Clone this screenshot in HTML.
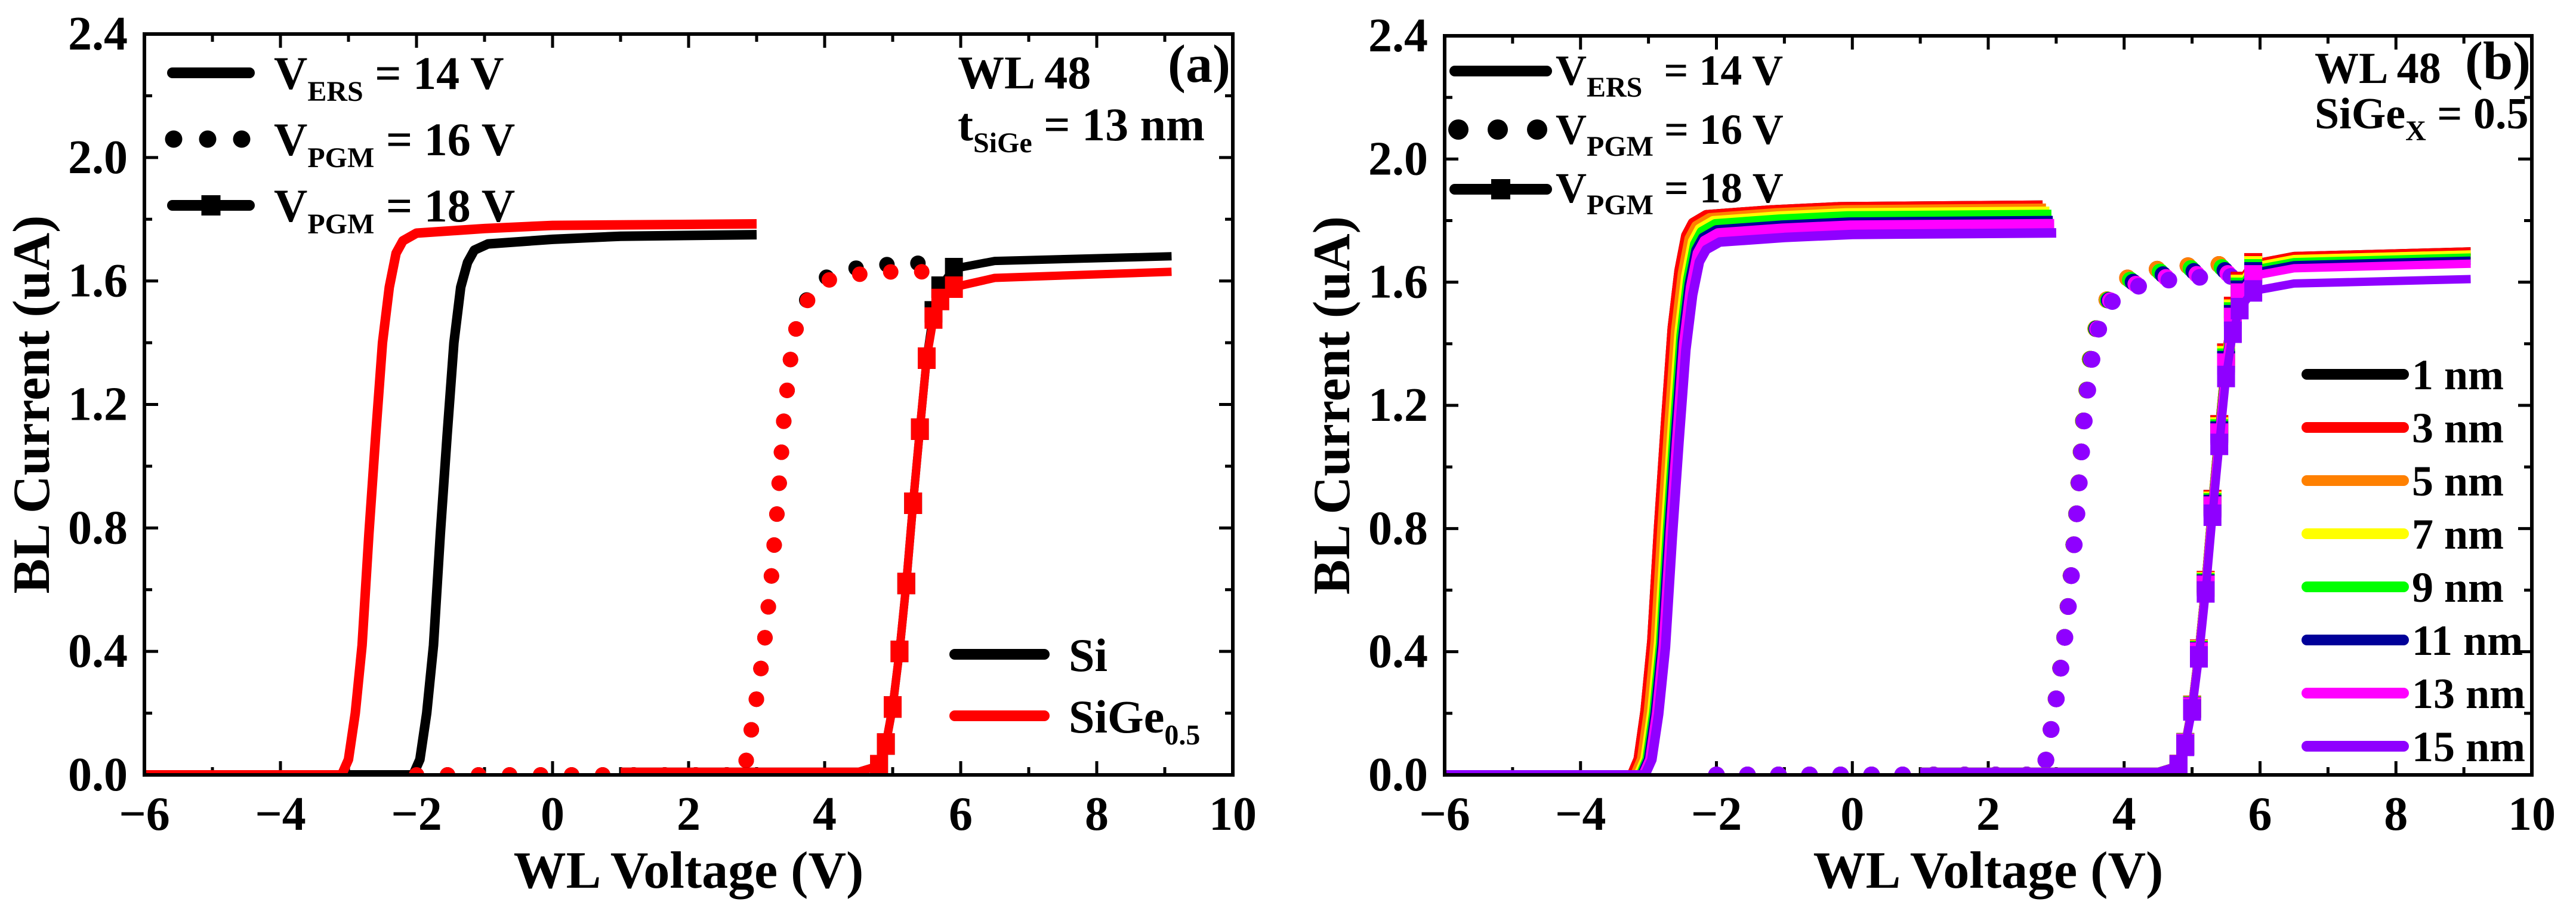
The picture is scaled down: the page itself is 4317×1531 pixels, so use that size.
<!DOCTYPE html>
<html><head><meta charset="utf-8"><style>
html,body{margin:0;padding:0;background:#fff}
svg{display:block;font-family:"Liberation Serif",serif;font-weight:bold}
</style></head><body>
<svg id="chart" width="4317" height="1531" viewBox="0 0 4317 1531"></svg>
<script>
// ---------- data ----------
const xTicks = [-6,-4,-2,0,2,4,6,8,10];
const yTicks = [0.0,0.4,0.8,1.2,1.6,2.0,2.4];
const yTickLabels = ["0.0","0.4","0.8","1.2","1.6","2.0","2.4"];
// panel (a)
const ersSiGeX = [-6,-3.1,-3.0,-2.9,-2.8,-2.7,-2.6,-2.5,-2.4,-2.3,-2.2,-2.0,-1,0,3];
const ersSiGeY = [0,0,0.05,0.2,0.42,0.78,1.1,1.4,1.58,1.69,1.73,1.755,1.77,1.78,1.785];
const ersSiX = [-6,-2.05,-1.95,-1.85,-1.75,-1.65,-1.55,-1.45,-1.35,-1.25,-1.15,-0.95,0,1,3];
const ersSiY = [0,0,0.05,0.2,0.42,0.78,1.1,1.4,1.58,1.66,1.70,1.72,1.735,1.745,1.75];
const pgm16X = [-2,2.8,2.85,3.0,3.1,3.2,3.3,3.4,3.5,3.6,3.8,4.0,4.4,5.0,5.8];
const pgm16SiY = [0,0,0.05,0.25,0.4,0.6,0.85,1.15,1.35,1.47,1.57,1.61,1.64,1.655,1.66];
const pgm16SiGeY = [0,0,0.05,0.25,0.4,0.6,0.85,1.15,1.35,1.47,1.56,1.60,1.62,1.63,1.63];
const pgm18X = [1,4.5,4.8,4.9,5.0,5.1,5.2,5.3,5.4,5.5,5.6,5.7,5.9,6.5,9.1];
const pgm18SiY = [0.01,0.01,0.03,0.1,0.22,0.4,0.62,0.88,1.12,1.35,1.5,1.58,1.64,1.665,1.68];
const pgm18SiGeY = [0.01,0.01,0.03,0.1,0.22,0.4,0.62,0.88,1.12,1.35,1.48,1.54,1.58,1.61,1.63];
// panel (b)
const thickLabels = ["1 nm","3 nm","5 nm","7 nm","9 nm","11 nm","13 nm","15 nm"];
const thickColors = ["#000000","#ff0000","#ff8000","#ffff00","#00ff00","#000099","#ff00ff","#8f00ff"];
const ersShift = [-0.2,-0.2,-0.15,-0.1,-0.07,-0.05,-0.03,0];
const ersSat = [1.85,1.85,1.84,1.83,1.82,1.80,1.79,1.76];
const pgm16Sat = [1.66,1.66,1.66,1.65,1.65,1.64,1.63,1.62];
const pgm18Sat = [1.70,1.70,1.69,1.69,1.68,1.67,1.66,1.61];
const ersBaseX = [-6,-3.05,-2.95,-2.85,-2.75,-2.65,-2.55,-2.45,-2.35,-2.25,-2.15,-1.95,-1,0,3];
const ersBaseY = [0,0,0.05,0.2,0.42,0.78,1.1,1.4,1.58,1.69,1.73,1.755,1.77,1.78,1.785];

const NS="http://www.w3.org/2000/svg";
const svg=document.getElementById('chart');
function mk(tag,attrs,parent){const e=document.createElementNS(NS,tag);for(const k in attrs)e.setAttribute(k,attrs[k]);(parent||svg).appendChild(e);return e;}
function txt(parent,x,y,html,size,anchor){const t=mk('text',{x:x,y:y,'font-size':size,'text-anchor':anchor||'start',fill:'#000'},parent);t.innerHTML=html;return t;}
function sub(main,s,rest){return main+'<tspan font-size="48" dy="20">'+s+'</tspan><tspan dy="-20">'+rest+'</tspan>';}

function panel(id,L,R,T,B){
  const g=mk('g',{});
  
  
  const sx=v=>L+(v+6)/16*(R-L);
  const sy=v=>B-v/2.4*(B-T);
  for(let v=-6;v<=10;v+=1){
    const len=(v%2===0)?23:13;
    mk('line',{x1:sx(v),x2:sx(v),y1:B,y2:B-len,stroke:'#000','stroke-width':5},g);
    mk('line',{x1:sx(v),x2:sx(v),y1:T,y2:T+len,stroke:'#000','stroke-width':5},g);
  }
  for(let i=0;i<=12;i++){const v=i*0.2;const len=(i%2===0)?23:13;
    mk('line',{x1:L,x2:L+len,y1:sy(v),y2:sy(v),stroke:'#000','stroke-width':5},g);
    mk('line',{x1:R,x2:R-len,y1:sy(v),y2:sy(v),stroke:'#000','stroke-width':5},g);
  }
  xTicks.forEach(v=>{const t=txt(g,sx(v),B+92,(v<0?'\u2212':'')+Math.abs(v),80,'middle');
    
    });
  yTicks.forEach((v,i)=>{const t=txt(g,L-28,sy(v)+26,yTickLabels[i],80,'end');
    
    });
  const xt=txt(g,(L+R)/2,B+189,'WL Voltage (V)',88,'middle');
  
  
  const cx=L-180, cy=(T+B)/2;
  const yt=txt(g,cx,cy,'BL Current (uA)',88,'middle');
  yt.setAttribute('transform','rotate(-90 '+cx+' '+cy+')');
  yt.setAttribute('dominant-baseline','middle');
  
  
  const clip=mk('clipPath',{id:'clip'+id},g);mk('rect',{x:L,y:T,width:R-L,height:B-T},clip);
  const plot=mk('g',{'clip-path':'url(#clip'+id+')'},g);
  const frame=mk('rect',{x:L,y:T,width:R-L,height:B-T,fill:'none',stroke:'#000','stroke-width':6},g);
  
  
  return {g,plot,sx,sy};
}
function pathD(p,xs,ys){return xs.map((x,i)=>(i?'L':'M')+p.sx(x).toFixed(1)+' '+p.sy(ys[i]).toFixed(1)).join(' ');}
function solid(p,xs,ys,color,w,name){const e=mk('path',{d:pathD(p,xs,ys),fill:'none',stroke:color,'stroke-width':w,'stroke-linejoin':'round'},p.plot);
  
  return e;}
function dotted(p,xs,ys,color,w,name){const e=mk('path',{d:pathD(p,xs,ys),fill:'none',stroke:color,'stroke-width':w,'stroke-linecap':'round','stroke-dasharray':'0 52'},p.plot);
  
  return e;}
function squares(p,xs,ys,color,name){xs.forEach((x,i)=>{if(x<4.8||x>5.95)return;
  const r=mk('rect',{x:p.sx(x)-15,y:p.sy(ys[i])-18,width:30,height:36,fill:color},p.plot);
  
  });}
function scaleY(ys,sat){const m=ys[ys.length-1];return ys.map(v=>v*sat/m);}
function legLine(g,x1,x2,y,color,type,name,dotW,dotGap){
  const l=mk('line',{x1:x1,x2:x2,y1:y,y2:y,stroke:color,'stroke-width':type==='dot'?(dotW||29):18,'stroke-linecap':'round'},g);
  if(type==='dot')l.setAttribute('stroke-dasharray','0 '+(dotGap||57));
  
  
  if(type==='sq'){const r=mk('rect',{x:(x1+x2)/2-16,y:y-17,width:32,height:34,fill:color},g);
    
    }
}

// ---------- panel a ----------
const A=panel('a',242,2066,57,1298);
solid(A,ersSiX,ersSiY,'#000',16,'erase-si-curve');
solid(A,ersSiGeX,ersSiGeY,'#ff0000',16,'erase-sige-curve');
dotted(A,pgm16X,pgm16SiY,'#000',26,'pgm16-si-curve');
dotted(A,pgm16X,pgm16SiGeY,'#ff0000',26,'pgm16-sige-curve');
solid(A,pgm18X,pgm18SiY,'#000',14,'pgm18-si-curve');squares(A,pgm18X,pgm18SiY,'#000','pgm18-si-marker');
solid(A,pgm18X,pgm18SiGeY,'#ff0000',14,'pgm18-sige-curve');squares(A,pgm18X,pgm18SiGeY,'#ff0000','pgm18-sige-marker');
legLine(A.g,289,418,122,'#000','solid','legend-vers-line');
legLine(A.g,291,418,233,'#000','dot','legend-vpgm16-line');
legLine(A.g,289,418,344,'#000','sq','legend-vpgm18-line');
txt(A.g,459,149,sub('V','ERS','&#160;= 14 V'),78);
txt(A.g,459,260,sub('V','PGM',' = 16 V'),78);
txt(A.g,459,371,sub('V','PGM',' = 18 V'),78);
txt(A.g,1605,148,'WL 48',78);
txt(A.g,1957,137,'(a)',90);
txt(A.g,1605,235,sub('t','SiGe',' = 13 nm'),78);
legLine(A.g,1600,1750,1096,'#000','solid','legend-si-line');
legLine(A.g,1600,1750,1199,'#ff0000','solid','legend-sige-line');
txt(A.g,1791,1124,'Si',78);
txt(A.g,1791,1227,'SiGe<tspan font-size="48" dy="20">0.5</tspan>',78);

// ---------- panel b ----------
const Bp=panel('b',2421,4243,60,1298);
for(let i=0;i<8;i++){
  const ex=ersBaseX.map(x=>x<=-5.9?x:x+ersShift[i]);
  solid(Bp,ex,scaleY(ersBaseY,ersSat[i]),thickColors[i],16,'erase-'+thickLabels[i].replace(' ','')+'-curve');
}
for(let i=0;i<8;i++) dotted(Bp,pgm16X,scaleY(pgm16SiY,pgm16Sat[i]),thickColors[i],28,'pgm16-'+thickLabels[i].replace(' ','')+'-curve');
for(let i=0;i<8;i++){const ys=scaleY(pgm18SiY,pgm18Sat[i]);
  solid(Bp,pgm18X,ys,thickColors[i],14,'pgm18-'+thickLabels[i].replace(' ','')+'-curve');
  squares(Bp,pgm18X,ys,thickColors[i],'pgm18-marker');}
legLine(Bp.g,2438,2592,119,'#000','solid','legend-b-vers-line');
legLine(Bp.g,2444,2594,217,'#000','dot','legend-b-vpgm16-line',34,66);
legLine(Bp.g,2438,2592,317,'#000','sq','legend-b-vpgm18-line');
txt(Bp.g,2607,142,sub('V','ERS','&#160; = 14 V'),72);
txt(Bp.g,2607,241,sub('V','PGM',' = 16 V'),72);
txt(Bp.g,2607,339,sub('V','PGM',' = 18 V'),72);
txt(Bp.g,3879,139,'WL 48',74);
txt(Bp.g,4131,132,'(b)',90);
txt(Bp.g,3879,215,sub('SiGe','X',' = 0.5'),74);
for(let i=0;i<8;i++){const y=627+i*89;
  legLine(Bp.g,3866,4028,y,thickColors[i],'solid','legend-'+thickLabels[i].replace(' ','')+'-line');
  const t=txt(Bp.g,4042,y+25,thickLabels[i],72);
  
  }
</script>
</body></html>
